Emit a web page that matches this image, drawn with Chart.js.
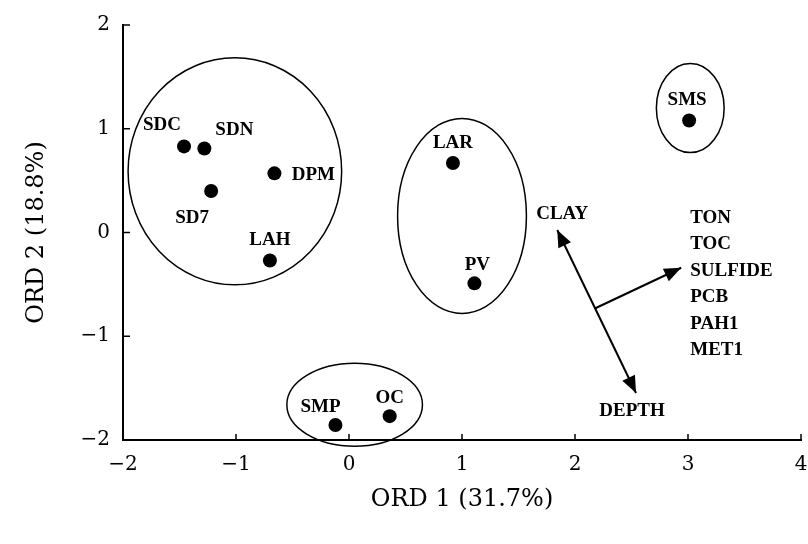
<!DOCTYPE html>
<html>
<head>
<meta charset="utf-8">
<script src="https://cdn.jsdelivr.net/npm/chart.js@4.4.0/dist/chart.umd.min.js"></script>
<style>
html,body{margin:0;padding:0;background:#fff;}
#wrap{width:808px;height:544px;}
</style>
</head>
<body>
<div id="wrap"><canvas id="c" width="808" height="544"></canvas></div>
<script>
// ---- data ----
const siteNames = ["SDC","SDN","DPM","SD7","LAH","LAR","PV","SMS","SMP","OC"];
const siteX     = [-1.46,-1.28,-0.66,-1.22,-0.70,0.92,1.11,3.01,-0.12,0.36];
const siteY     = [0.83, 0.81, 0.57, 0.40,-0.27,0.67,-0.49,1.08,-1.855,-1.77];

// group ellipses: centre x, centre y, radius x, radius y (data units)
const ellCX = [-1.01, 1.00, 3.02, 0.05];
const ellCY = [ 0.59, 0.16, 1.20,-1.66];
const ellRX = [ 0.945,0.57, 0.30, 0.60];
const ellRY = [ 1.094,0.94, 0.43, 0.40];

// environmental vectors (data units)
const vecBaseX = [2.18];  const vecBaseY = [-0.73];
const clayTip  = [1.843, 0.024];
const depthTip = [2.54, -1.547];
const envTip   = [2.94, -0.34];
const envNames = ["TON","TOC","SULFIDE","PCB","PAH1","MET1"];

const xTicks = [-2,-1,0,1,2,3,4];
const yTicks = [-2,-1,0,1,2];

// ---- layout (pixel offsets for labels) ----
const labelOff = [[-22,-21],[30,-18],[39,2],[-19,27],[0,-20],[0,-20],[3,-18],[-2,-20],[-15,-18],[0,-18]];

const labelFont = "bold 19px 'Liberation Serif'";
const minus = s => String(s).replace('-', '\u2212');

const overlay = {
  id:'overlay',
  afterDatasetsDraw(chart){
    const {ctx, scales:{x,y}} = chart;
    const px = v => x.getPixelForValue(v), py = v => y.getPixelForValue(v);
    ctx.save();
    // inward ticks
    ctx.strokeStyle='#000'; ctx.lineWidth=1.5;
    xTicks.forEach(t=>{ if(t===-2) return; const X=px(t); ctx.beginPath(); ctx.moveTo(X,y.bottom); ctx.lineTo(X,y.bottom-6); ctx.stroke();});
    yTicks.forEach(t=>{ const Y=py(t); ctx.beginPath(); ctx.moveTo(x.left,Y); ctx.lineTo(x.left+7,Y); ctx.stroke();});
    // ellipses
    ctx.lineWidth=1.5;
    for(let i=0;i<ellCX.length;i++){
      const cx=px(ellCX[i]), cy=py(ellCY[i]);
      const rx=Math.abs(px(ellCX[i]+ellRX[i])-cx), ry=Math.abs(py(ellCY[i]+ellRY[i])-cy);
      ctx.beginPath(); ctx.ellipse(cx,cy,rx,ry,0,0,Math.PI*2); ctx.stroke();
    }
    // arrows
    function head(x0,y0,x1,y1){
      const a=Math.atan2(y1-y0,x1-x0), L=17, W=7;
      ctx.beginPath();
      ctx.moveTo(x1,y1);
      ctx.lineTo(x1-L*Math.cos(a)+W*Math.sin(a), y1-L*Math.sin(a)-W*Math.cos(a));
      ctx.lineTo(x1-L*Math.cos(a)-W*Math.sin(a), y1-L*Math.sin(a)+W*Math.cos(a));
      ctx.closePath(); ctx.fill();
    }
    ctx.fillStyle='#000'; ctx.lineWidth=2;
    const cxp=px(clayTip[0]), cyp=py(clayTip[1]), dxp=px(depthTip[0]), dyp=py(depthTip[1]);
    ctx.beginPath(); ctx.moveTo(cxp,cyp); ctx.lineTo(dxp,dyp); ctx.stroke();
    head(dxp,dyp,cxp,cyp); head(cxp,cyp,dxp,dyp);
    const bx=px(vecBaseX[0]), by=py(vecBaseY[0]), ex=px(envTip[0]), ey=py(envTip[1]);
    ctx.beginPath(); ctx.moveTo(bx,by); ctx.lineTo(ex,ey); ctx.stroke();
    head(bx,by,ex,ey);
    // labels
    ctx.font=labelFont; ctx.textBaseline='middle'; ctx.textAlign='center'; ctx.fillStyle='#000';
    siteNames.forEach((n,i)=>{ ctx.fillText(n, px(siteX[i])+labelOff[i][0], py(siteY[i])+labelOff[i][1]); });
    ctx.fillText("CLAY", cxp+5, cyp-16);
    ctx.fillText("DEPTH", dxp-4, dyp+18);
    ctx.textAlign='left';
    envNames.forEach((n,i)=>{ ctx.fillText(n, ex+9, ey-50+i*26.5); });
    ctx.restore();
  }
};

new Chart(document.getElementById('c'), {
  type:'scatter',
  data:{ datasets:[{
    data: siteX.map((v,i)=>({x:v,y:siteY[i]})),
    pointRadius:7, pointHoverRadius:7,
    backgroundColor:'#000', borderColor:'#000', borderWidth:0
  }]},
  options:{
    responsive:false, animation:false, devicePixelRatio:1,
    layout:{ padding:{ left:0, right:6, top:25, bottom:0 } },
    plugins:{ legend:{display:false}, tooltip:{enabled:false} },
    scales:{
      x:{
        type:'linear', min:-2, max:4,
        afterBuildTicks: s => { s.ticks = xTicks.map(v=>({value:v})); },
        afterFit: s => { s.height = 104; s.paddingLeft = 0; s.paddingRight = 0; },
        grid:{ display:false, drawTicks:false },
        border:{ display:true, color:'#000', width:2 },
        ticks:{ color:'#000', padding:13, maxRotation:0, font:{family:"'DejaVu Serif'", size:20}, callback:v=>minus(v) },
        title:{ display:true, text:'ORD 1 (31.7%)', color:'#000', font:{family:"'DejaVu Serif'", size:24}, padding:{top:0,bottom:30} }
      },
      y:{
        type:'linear', min:-2, max:2,
        afterBuildTicks: s => { s.ticks = yTicks.map(v=>({value:v})); },
        afterFit: s => { s.width = 123; s.paddingTop = 0; s.paddingBottom = 0; },
        grid:{ display:false, drawTicks:false },
        border:{ display:true, color:'#000', width:2 },
        ticks:{ color:'#000', padding:13, font:{family:"'DejaVu Serif'", size:20}, callback:v=>minus(v) },
        title:{ display:true, text:'ORD 2 (18.8%)', color:'#000', font:{family:"'DejaVu Serif'", size:24}, padding:{top:22,bottom:0} }
      }
    }
  },
  plugins:[overlay]
});
</script>
</body>
</html>
